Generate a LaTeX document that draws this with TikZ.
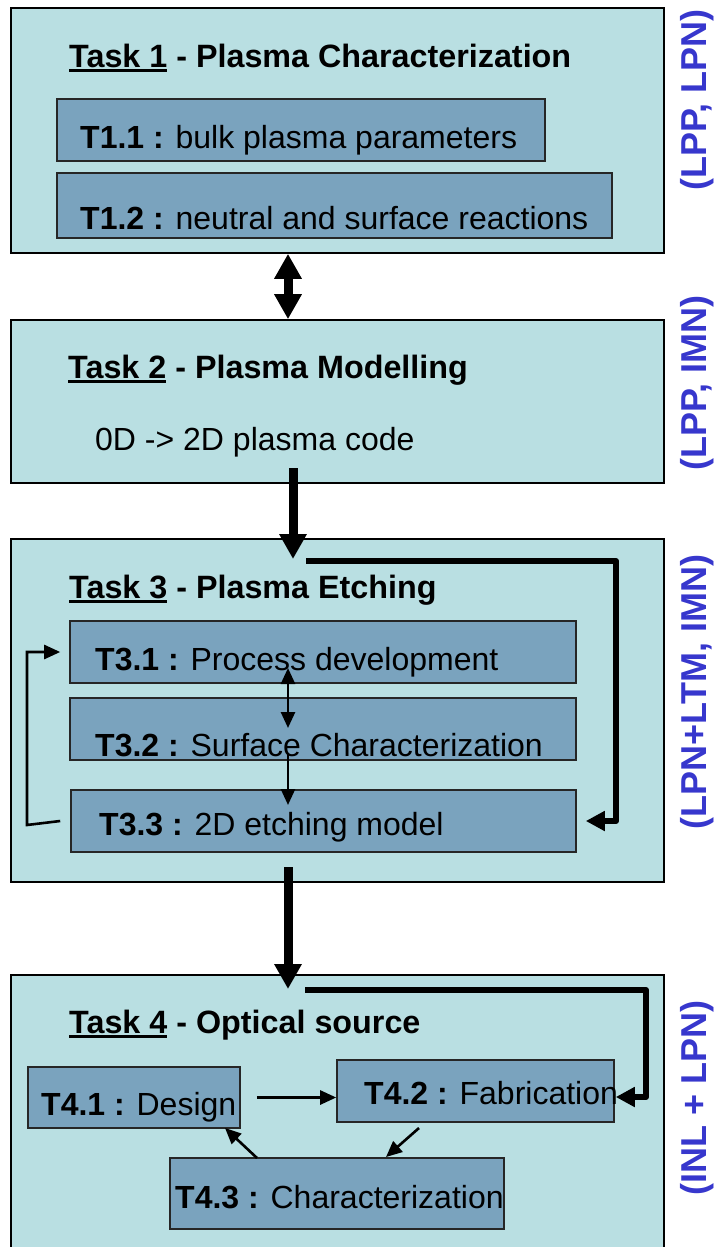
\documentclass[tikz,border=0pt]{standalone}
\usepackage{fontspec}
\setmainfont{Liberation Sans}
\usetikzlibrary{arrows.meta,calc}
\definecolor{outerfill}{RGB}{185,223,226}
\definecolor{innerfill}{RGB}{122,163,190}
\definecolor{labblue}{RGB}{55,55,205}
\newcommand\tul[1]{\leavevmode\vtop{\hbox{#1}\kern1.6pt\hrule height 2.8pt}}
\begin{document}
\begin{tikzpicture}[x=1pt,y=-1pt,
  outerbox/.style={draw=black, line width=1.6pt, fill=outerfill, rectangle, inner sep=0pt, minimum width=653pt},
  innerbox/.style={draw=black!85, line width=1.6pt, fill=innerfill, rectangle, inner sep=0pt},
  title/.style={anchor=base west, inner sep=0pt, font=\fontsize{32.3}{38}\selectfont\bfseries},
  body/.style={anchor=base west, inner sep=0pt, font=\fontsize{32}{38}\selectfont},
  lab/.style={rotate=90, text=labblue, inner sep=0pt, font=\fontsize{36}{42}\selectfont\bfseries},
  bigarrow/.style={line width=9pt, -{Triangle[length=25pt,width=26pt]}},
  bigdbl/.style={line width=9pt, {Triangle[length=25pt,width=26pt]}-{Triangle[length=25pt,width=26pt]}},
  bentarrow/.style={line width=6pt, line join=round, -{Triangle[length=19pt,width=19pt]}},
  thinarrow/.style={line width=2.6pt, -{Triangle[length=16pt,width=14pt]}},
  thindbl/.style={line width=2.6pt, {Triangle[length=16pt,width=14pt]}-{Triangle[length=16pt,width=14pt]}}
]
\useasboundingbox (0,0) rectangle (713,1247);
\clip (0,0) rectangle (713,1247);

% outer task boxes
\node[outerbox, minimum height=245pt] (t1) at (337.5,130.5) {};
\node[outerbox, minimum height=163pt] (t2) at (337.5,401.5) {};
\node[outerbox, minimum height=343pt] (t3) at (337.5,710.5) {};
\node[outerbox, minimum height=290pt] (t4) at (337.5,1120) {};

% inner boxes
\node[innerbox, minimum width=488pt, minimum height=62pt] (t11) at (301,130) {};
\node[innerbox, minimum width=555pt, minimum height=65pt] (t12) at (334.5,205.5) {};
\node[innerbox, minimum width=506pt, minimum height=62pt] (t31) at (323,652) {};
\node[innerbox, minimum width=506pt, minimum height=62pt] (t32) at (323,729) {};
\node[innerbox, minimum width=505pt, minimum height=62pt] (t33) at (323.5,821) {};
\node[innerbox, minimum width=212pt, minimum height=61pt] (t41) at (134,1097.5) {};
\node[innerbox, minimum width=277pt, minimum height=62pt] (t42) at (475.5,1091) {};
\node[innerbox, minimum width=334pt, minimum height=71pt] (t43) at (337,1193.5) {};

% texts
\node[title] (h1) at (69,67) {\tul{Task 1} - Plasma Characterization};
\node[body] (x11) at (80,148) {\textbf{T1.1 :} bulk plasma parameters};
\node[body] (x12) at (80,229) {\textbf{T1.2 :} neutral and surface reactions};
\node[title] (h2) at (68,378) {\tul{Task 2} - Plasma Modelling};
\node[body] (x2) at (95,450) {0D -> 2D plasma code};
\node[title] (h3) at (69,598) {\tul{Task 3} - Plasma Etching};
\node[body] (x31) at (95,670) {\textbf{T3.1 :} Process development};
\node[body] (x32) at (95,756) {\textbf{T3.2 :} Surface Characterization};
\node[body] (x33) at (99,835) {\textbf{T3.3 :} 2D etching model};
\node[title] (h4) at (69,1033) {\tul{Task 4} - Optical source};
\node[body] (x41) at (41,1115) {\textbf{T4.1 :} Design};
\node[body] (x42) at (364,1104) {\textbf{T4.2 :} Fabrication};
\node[body] (x43) at (175,1208) {\textbf{T4.3 :} Characterization};

% side labels
\node[lab] (l1) at (697,100) {(LPP, LPN)};
\node[lab] (l2) at (697,383) {(LPP, IMN)};
\node[lab] (l3) at (697,692) {(LPN+LTM, IMN)};
\node[lab] (l4) at (697,1098) {(INL + LPN)};

% coordinates for connector ends
\coordinate (c12) at (288,0);
\coordinate (s23) at (293,468);
\coordinate (e23) at (293,559);
\coordinate (s34) at (288,867);
\coordinate (e34) at (288,989);
\coordinate (b3s) at (306,561);
\coordinate (b3c) at (616,821);
\coordinate (b4s) at (305,990);
\coordinate (b4c) at (646,1097);
\coordinate (d1) at (288,668);
\coordinate (d2) at (288,728);
\coordinate (d3) at (288,753);
\coordinate (d4) at (288,805);
\coordinate (fb) at (27,825);

% main arrows
\draw[bigdbl] (t1.south -| c12) -- (t2.north -| c12);
\draw[bigarrow] (s23) -- (e23);
\draw[bigarrow] (s34) -- (e34);
\draw[bentarrow] (b3s) -| (b3c) -- ([xshift=9pt]t33.east);
\draw[bentarrow] (b4s) -| (b4c) -- ([xshift=1pt]b4c -| t42.east);

% task 3 inner arrows
\draw[thindbl] (d1) -- (d2);
\draw[thinarrow] (d3) -- (d4);
\draw[thinarrow] ([xshift=-10pt]t33.west) -- (fb) |- ([xshift=-9pt]t31.west);

% task 4 inner arrows
\draw[thinarrow] ([xshift=16pt]t41.east) -- (t41.east -| t42.west);
\draw[thinarrow] (419,1128) -- (386,1157);
\draw[thinarrow] (257,1158) -- (225,1128);
\end{tikzpicture}
\end{document}
